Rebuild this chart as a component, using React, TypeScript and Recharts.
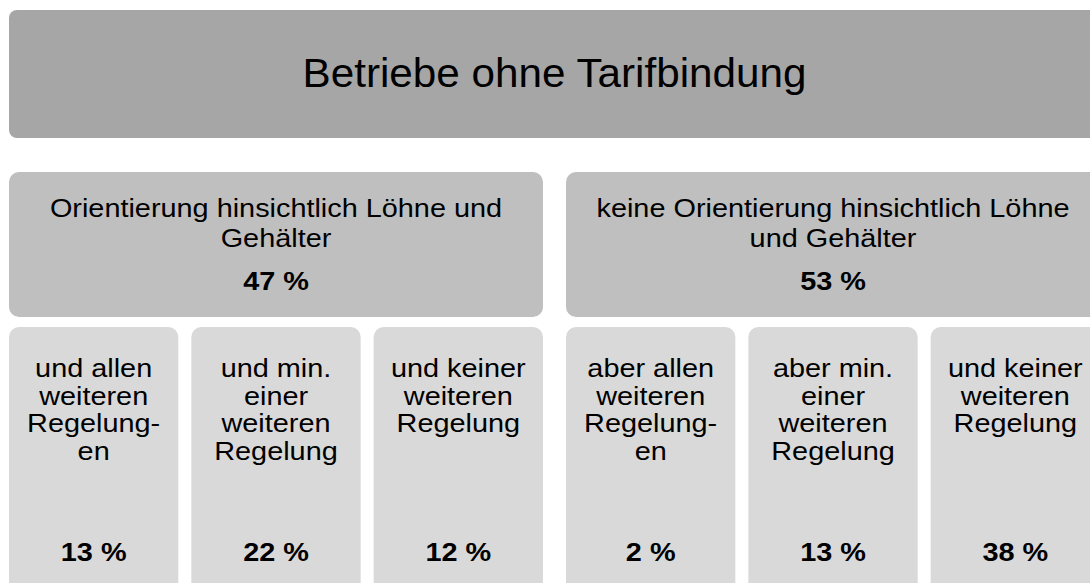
import { BarChart, Bar, XAxis, YAxis } from "recharts"

const TITLE = "Betriebe ohne Tarifbindung"

const GROUP_LABELS = [
  ["Orientierung hinsichtlich Löhne und", "Gehälter"],
  ["keine Orientierung hinsichtlich Löhne", "und Gehälter"],
]
const GROUP_SHARES = [47, 53]

const SUB_LABELS = [
  ["und allen", "weiteren", "Regelung-", "en"],
  ["und min.", "einer", "weiteren", "Regelung"],
  ["und keiner", "weiteren", "Regelung"],
  ["aber allen", "weiteren", "Regelung-", "en"],
  ["aber min.", "einer", "weiteren", "Regelung"],
  ["und keiner", "weiteren", "Regelung"],
]
const SUB_SHARES = [13, 22, 12, 2, 13, 38]
const SUBS_PER_GROUP = 3

// layout
const COLS = GROUP_SHARES.length * SUBS_PER_GROUP
const GROUP_GAP = 0.055 // extra space between the two groups, in column units
const TOTAL = COLS + GROUP_GAP
const HALF_GAP = 6.5
const FONT = '"Liberation Sans", Arial, sans-serif'
const STRETCH = 1.11
const SIZE = 26

const COLOR_TOP = "#a6a6a6"
const COLOR_MID = "#bfbfbf"
const COLOR_SUB = "#d9d9d9"

type Seg = { key: string; span: number; kind: "top" | "mid" | "sub" | "gap"; idx: number }

const topSegs: Seg[] = [{ key: "all", span: TOTAL, kind: "top", idx: 0 }]
const midSegs: Seg[] = GROUP_SHARES.flatMap((_, g) => {
  const s: Seg[] = [{ key: `g${g}`, span: SUBS_PER_GROUP, kind: "mid", idx: g }]
  if (g < GROUP_SHARES.length - 1) s.push({ key: `gap${g}`, span: GROUP_GAP, kind: "gap", idx: g })
  return s
})
const subSegs: Seg[] = SUB_SHARES.flatMap((_, i) => {
  const s: Seg[] = [{ key: `s${i}`, span: 1, kind: "sub", idx: i }]
  if ((i + 1) % SUBS_PER_GROUP === 0 && i < SUB_SHARES.length - 1)
    s.push({ key: `gap${i}`, span: GROUP_GAP, kind: "gap", idx: i })
  return s
})

const toRow = (segs: Seg[]) => [
  Object.fromEntries([["row", "r"], ...segs.map((s) => [s.key, s.span])]),
]

function Lines({
  lines, cx, y, lh, size = SIZE, bold, sx = STRETCH,
}: { lines: string[]; cx: number; y: number; lh: number; size?: number; bold?: boolean; sx?: number }) {
  return (
    <>
      {lines.map((l, i) => (
        <text
          key={i}
          transform={`translate(${cx} ${y + i * lh}) scale(${sx} 1)`}
          textAnchor="middle"
          fontFamily={FONT}
          fontSize={size}
          fontWeight={bold ? 700 : 400}
          fill="#000"
        >
          {l}
        </text>
      ))}
    </>
  )
}

function makeShape(seg: Seg) {
  return (p: any) => {
    if (seg.kind === "gap") return <g />
    const x = p.x + HALF_GAP
    const w = p.width - 2 * HALF_GAP
    const { y, height } = p
    const cx = x + w / 2
    if (seg.kind === "top") {
      return (
        <g>
          <rect x={x} y={y} width={w} height={height} rx={8} fill={COLOR_TOP} />
          <Lines lines={[TITLE]} cx={cx} y={y + height / 2 + 13} lh={0} size={41} sx={1.03} />
        </g>
      )
    }
    if (seg.kind === "mid") {
      return (
        <g>
          <rect x={x} y={y} width={w} height={height} rx={10} fill={COLOR_MID} />
          <Lines lines={GROUP_LABELS[seg.idx]} cx={cx} y={y + 45} lh={30} />
          <Lines lines={[`${GROUP_SHARES[seg.idx]} %`]} cx={cx} y={y + 117.5} lh={0} bold />
        </g>
      )
    }
    return (
      <g>
        <rect x={x} y={y} width={w} height={height} rx={10} fill={COLOR_SUB} />
        <Lines lines={SUB_LABELS[seg.idx]} cx={cx} y={y + 50} lh={27.5} />
        <Lines lines={[`${SUB_SHARES[seg.idx]} %`]} cx={cx} y={y + 234} lh={0} bold />
      </g>
    )
  }
}

function Row({ segs, height, top, bottom }: { segs: Seg[]; height: number; top: number; bottom: number }) {
  return (
    <BarChart
      width={1110}
      height={height}
      data={toRow(segs)}
      layout="vertical"
      barCategoryGap={0}
      barGap={0}
      margin={{ top, right: 3.5, bottom, left: 2.5 }}
    >
      <XAxis type="number" domain={[0, TOTAL]} hide />
      <YAxis type="category" dataKey="row" hide />
      {segs.map((s) => (
        <Bar
          key={s.key}
          dataKey={s.key}
          stackId="a"
          isAnimationActive={false}
          shape={makeShape(s)}
        />
      ))}
    </BarChart>
  )
}

export default function App() {
  return (
    <div
      style={{
        position: "fixed",
        left: 0,
        top: 0,
        width: 1090,
        height: 583,
        overflow: "hidden",
        background: "#fff",
      }}
    >
      <Row segs={topSegs} height={155} top={10} bottom={17} />
      <Row segs={midSegs} height={167} top={17} bottom={5} />
      <Row segs={subSegs} height={290} top={5} bottom={0} />
    </div>
  )
}
